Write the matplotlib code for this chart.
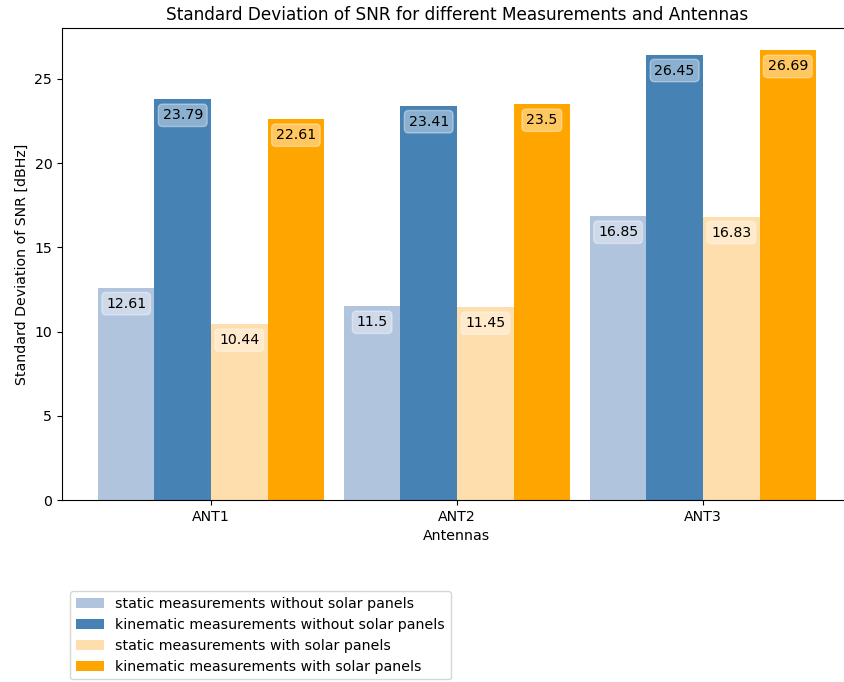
import numpy as np
import matplotlib
matplotlib.use("Agg")
import matplotlib.pyplot as plt

antennas = ["ANT1", "ANT2", "ANT3"]
static_no_panels = [12.61, 11.5, 16.85]
kinematic_no_panels = [23.79, 23.41, 26.45]
static_panels = [10.44, 11.45, 16.83]
kinematic_panels = [22.61, 23.5, 26.69]

series = [
    (static_no_panels, "static measurements without solar panels", "lightsteelblue"),
    (kinematic_no_panels, "kinematic measurements without solar panels", "steelblue"),
    (static_panels, "static measurements with solar panels", "navajowhite"),
    (kinematic_panels, "kinematic measurements with solar panels", "orange"),
]

plt.rcParams["font.size"] = 10.15

W, H = 844, 682
fig = plt.figure(figsize=(W / 100, H / 100), dpi=100)
ax = fig.add_axes([62 / W, (H - 500) / H, (852 - 62) / W, (500 - 28) / H])

x = np.arange(len(antennas))
width = 0.23
offsets = (np.arange(len(series)) - 1.5) * width

for off, (vals, label, color) in zip(offsets, series):
    bars = ax.bar(x + off, vals, width, label=label, color=color)
    for b, v in zip(bars, vals):
        ax.text(b.get_x() + b.get_width() / 2, v - 0.95, f"{v:g}",
                ha="center", va="center",
                bbox=dict(boxstyle="round", facecolor="white", edgecolor="white", alpha=0.38))

# the right edge of the axes lies past the figure border
ax.spines["right"].set_visible(False)

ax.set_xticks(x)
ax.set_xticklabels(antennas)
ax.set_xlabel("Antennas")
ax.set_ylabel("Standard Deviation of SNR [dBHz]")
ax.set_title("Standard Deviation of SNR for different Measurements and Antennas")

handles, labels = ax.get_legend_handles_labels()
fig.legend(handles, labels, loc="upper left",
           bbox_to_anchor=(70 / W, 1 - 591 / H), borderaxespad=0)

fig.savefig("out.png", dpi=100)
